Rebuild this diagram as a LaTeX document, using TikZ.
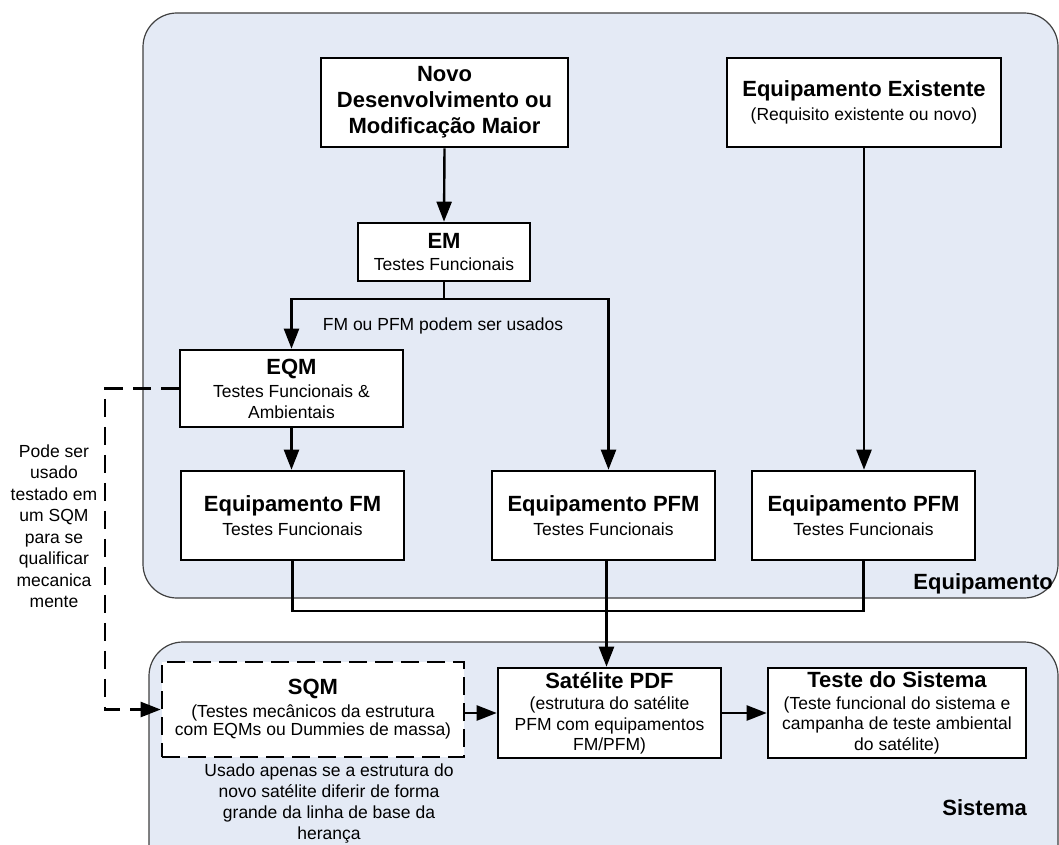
\documentclass[tikz,border=0pt]{standalone}
\usepackage{fontspec}
\setmainfont{Liberation Sans}
\usetikzlibrary{arrows.meta}
\definecolor{panelfill}{RGB}{228,234,245}
\definecolor{panelline}{RGB}{64,64,64}
\newcommand{\boxtitle}{\fontsize{22}{26}\selectfont\bfseries}
\newcommand{\boxbody}{\fontsize{17.5}{20.5}\selectfont}
\begin{document}
\begin{tikzpicture}[x=1pt,y=-1pt,
  panel/.style={draw=panelline, line width=1.2pt, fill=panelfill, rounded corners=34pt},
  box/.style={draw=black, line width=2.6pt, fill=white, align=center, inner sep=0pt, font=\boxbody},
  dashbox/.style={box, dash pattern=on 18pt off 8pt},
  link/.style={draw=black, line width=2.4pt},
  arr/.style={link, -{Triangle[length=20pt,width=15pt]}},
  dasharr/.style={arr, dash pattern=on 18pt off 10pt},
  plain/.style={align=center, inner sep=0pt, font=\boxbody},
  tag/.style={inner sep=0pt, font=\boxtitle}
]
\useasboundingbox (0,0) rectangle (1059,845);
\fill[white] (0,0) rectangle (1059,845);

% group panels
\draw[panel] (143,13) rectangle (1058,598);
\draw[panel] (149,642) rectangle (1058,900);

% equipment level
\node[box, font=\boxtitle, minimum width=247, minimum height=89] (novo) at (444.5,102.5)
  {Novo\\Desenvolvimento ou\\Modificação Maior};
\node[box, minimum width=274, minimum height=89] (exist) at (864,102.5)
  {{\boxtitle Equipamento Existente}\\[3pt](Requisito existente ou novo)};
\node[box, minimum width=172, minimum height=58] (em) at (444,252)
  {{\boxtitle EM}\\[2pt]Testes Funcionais};
\node[box, minimum width=223, minimum height=77] (eqm) at (291.5,388.5)
  {{\boxtitle EQM}\\[3pt]Testes Funcionais \&\\Ambientais};
\node[box, minimum width=223, minimum height=89] (fm) at (292.5,515.5)
  {{\boxtitle Equipamento FM}\\[3pt]Testes Funcionais};
\node[box, minimum width=223, minimum height=89] (pfmA) at (603.5,515.5)
  {{\boxtitle Equipamento PFM}\\[3pt]Testes Funcionais};
\node[box, minimum width=223, minimum height=89] (pfmB) at (863.5,515.5)
  {{\boxtitle Equipamento PFM}\\[3pt]Testes Funcionais};

% system level
\node[dashbox, minimum width=302, minimum height=95] (sqm) at (313,709.5)
  {{\boxtitle SQM}\\[2pt](Testes mecânicos da estrutura\\[-2pt]com EQMs ou Dummies de massa)};
\node[box, minimum width=223, minimum height=90] (sat) at (609.5,713)
  {{\boxtitle Satélite PDF}\\[1pt](estrutura do satélite\\PFM com equipamentos\\FM/PFM)};
\node[box, minimum width=258, minimum height=90] (teste) at (897,713)
  {{\boxtitle Teste do Sistema}\\[1pt](Teste funcional do sistema e\\campanha de teste ambiental\\do satélite)};

% labels
\node[plain] (lblUse) at (443,326) {FM ou PFM podem ser usados};
\node[plain, font=\fontsize{17.5}{21.5}\selectfont] (lblSqm) at (54,526)
  {Pode ser\\usado\\testado em\\um SQM\\para se\\qualificar\\mecanica\\mente};
\node[plain, font=\fontsize{17.5}{21}\selectfont] (lblOnly) at (329,804)
  {Usado apenas se a estrutura do\\novo satélite diferir de forma\\grande da linha de base da\\herança};
\node[tag, anchor=east] (lblEq) at (1053,584) {Equipamento};
\node[tag, anchor=east] (lblSys) at (1027,808) {Sistema};

% connectors
\coordinate (split) at (444,299);
\coordinate (busY) at (0,611);
\coordinate (dashX) at (105,0);

\draw[arr] (novo.south) -- (em.north);
\draw[link] (em.south) -- (split);
\draw[arr] (split) -| (eqm.north);
\draw[arr] (split) -| ([xshift=5pt]pfmA.north);
\draw[arr] (eqm.south) -- (eqm.south |- fm.north);
\draw[arr] (exist.south) -- (exist.south |- pfmB.north);
\draw[link] (fm.south) |- (pfmB.south |- busY) -- (pfmB.south);
\draw[arr] ([xshift=3pt]pfmA.south) -- ([xshift=3pt]pfmA.south |- sat.north);
\draw[arr] (sqm.east |- sat.west) -- (sat.west);
\draw[arr] (sat.east) -- (teste.west);
\draw[dasharr] (eqm.west) -- (eqm.west -| dashX) |- (sqm.west);
\end{tikzpicture}
\end{document}
